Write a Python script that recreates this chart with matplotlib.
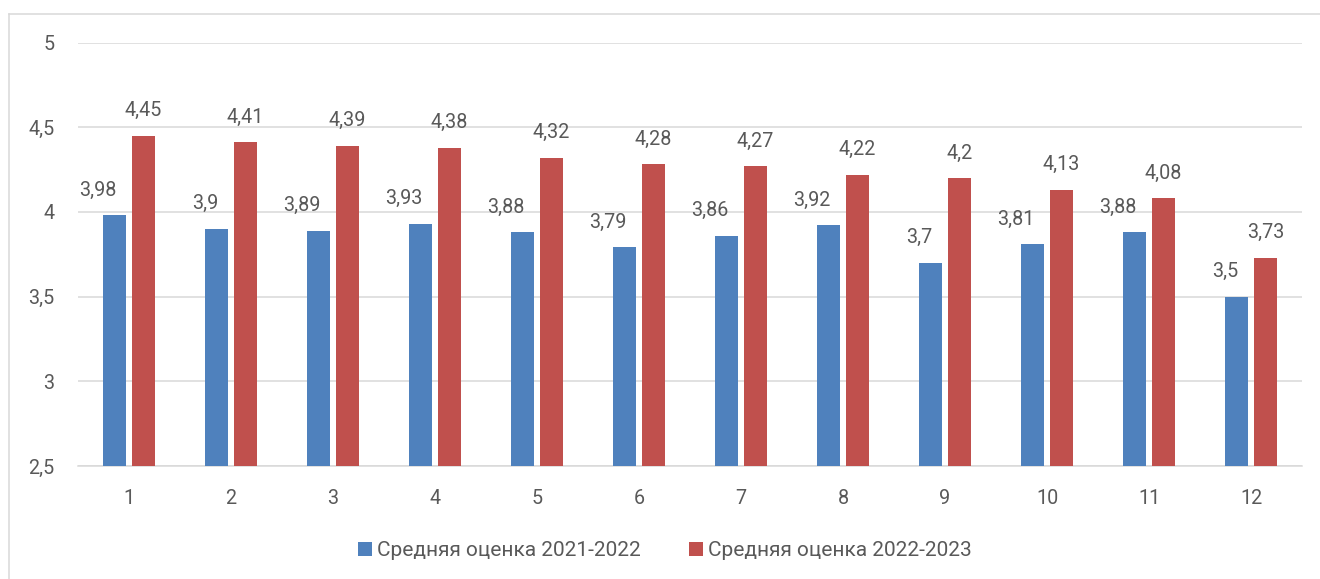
import matplotlib
matplotlib.use("Agg")
import matplotlib.pyplot as plt
from matplotlib.patches import Patch
from matplotlib.lines import Line2D
import numpy as np

categories = ["1", "2", "3", "4", "5", "6", "7", "8", "9", "10", "11", "12"]
series_2021 = [3.98, 3.9, 3.89, 3.93, 3.88, 3.79, 3.86, 3.92, 3.7, 3.81, 3.88, 3.5]
series_2022 = [4.45, 4.41, 4.39, 4.38, 4.32, 4.28, 4.27, 4.22, 4.2, 4.13, 4.08, 3.73]
series_names = ["Средняя оценка 2021-2022", "Средняя оценка 2022-2023"]
y_ticks = [2.5, 3, 3.5, 4, 4.5, 5]

BLUE = "#4f81bd"
RED = "#c0504d"
TEXT = "#595959"
GRID = "#d9d9d9"

plt.rcParams["font.family"] = ["Roboto", "DejaVu Sans"]

W, H = 1320, 579
fig = plt.figure(figsize=(W / 100, H / 100), dpi=100)
ax = fig.add_axes([78 / W, 1 - 466 / H, 1224 / W, (466 - 42.5) / H])

x = np.arange(len(categories))
bw = 0.225
off = 0.142
ax.bar(x - off, [v - 2.5 for v in series_2021], bw, bottom=2.5, color=BLUE, zorder=3)
ax.bar(x + off, [v - 2.5 for v in series_2022], bw, bottom=2.5, color=RED, zorder=3)

fs = 14.2

def fmt(v):
    return ("%g" % v).replace(".", ",")

for xi, v in zip(x, series_2021):
    ax.annotate(fmt(v), (xi - off, v), xytext=(1.5, 18), textcoords="offset points",
                ha="right", va="center", fontsize=fs, color=TEXT, zorder=4)
for xi, v in zip(x, series_2022):
    ax.annotate(fmt(v), (xi + off, v), xytext=(0, 18), textcoords="offset points",
                ha="center", va="center", fontsize=fs, color=TEXT, zorder=4)

ax.set_xlim(-0.5, len(categories) - 0.5)
ax.set_ylim(2.5, 5)
ax.set_yticks(y_ticks)
ax.set_yticklabels([fmt(t) for t in y_ticks])
ax.set_xticks(x)
ax.set_xticklabels(categories)
ax.yaxis.grid(True, color=GRID, linewidth=1.1, zorder=0)
ax.set_axisbelow(True)
for s in ax.spines.values():
    s.set_visible(False)
ax.axhline(2.5, color=GRID, linewidth=1.1, zorder=2, clip_on=False)
ax.tick_params(axis="both", length=0, labelsize=fs, colors=TEXT)
ax.tick_params(axis="y", pad=17)
ax.tick_params(axis="x", pad=16.5)

# outer chart border (cropped on right and bottom)
fig.add_artist(Line2D([8.5 / W, 8.5 / W], [0, 1 - 13.5 / H], color=GRID, linewidth=1.1))
fig.add_artist(Line2D([8.5 / W, 1], [1 - 13.5 / H, 1 - 13.5 / H], color=GRID, linewidth=1.1))

handles = [Patch(facecolor=BLUE, edgecolor="none"), Patch(facecolor=RED, edgecolor="none")]
leg = fig.legend(handles, series_names, loc="center", bbox_to_anchor=(665 / W, 1 - 550.5 / H),
                 ncol=2, frameon=False, fontsize=15, handlelength=0.68, handleheight=0.68,
                 handletextpad=0.25, columnspacing=2.3, borderaxespad=0, borderpad=0)
for t in leg.get_texts():
    t.set_color(TEXT)

fig.savefig("out.png", dpi=100)
